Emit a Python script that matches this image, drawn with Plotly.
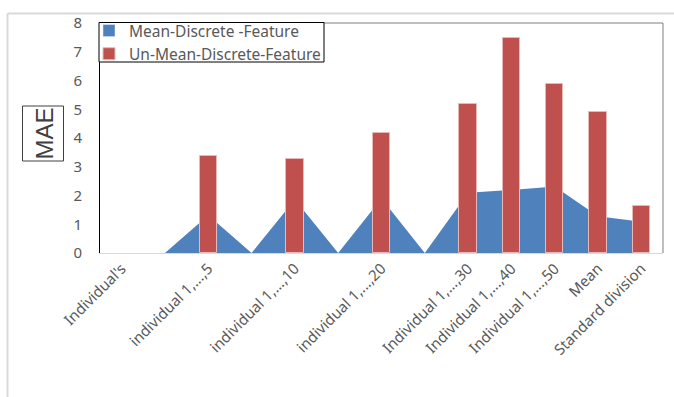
import plotly.graph_objects as go

# Category slots (blank slots separate the first groups)
slot_labels = ["Individual's", "", "individual 1,...,5", "", "individual 1,...,10", "",
               "individual 1,...,20", "", "Individual 1,...,30", "Individual 1,...,40",
               "Individual 1,...,50", "Mean", "Standard division"]
slot_pos = list(range(len(slot_labels)))

# Mean-Discrete -Feature (area), one value per slot
mean_discrete = [0, 0, 1.31, 0, 1.86, 0, 1.9, 0, 2.1, 2.19, 2.31, 1.28, 1.09]

# Un-Mean-Discrete-Feature (bars)
bar_pos = [2, 4, 6, 8, 9, 10, 11, 12]
un_mean_discrete = [3.38, 3.26, 4.19, 5.17, 7.48, 5.87, 4.9, 1.64]

y_ticks = [0, 1, 2, 3, 4, 5, 6, 7, 8]

BLUE = "#4F81BD"
RED = "#C0504D"
TXT = "#595959"
FONT = "Noto Sans, Open Sans, sans-serif"

W, H = 674, 397
ML, MR, MT, MB = 100, 11, 23, 144
PW, PH = W - ML - MR, H - MT - MB


def px_x(x):
    return (x - ML) / PW


def px_y(y):
    return (H - MB - y) / PH


fig = go.Figure()

# legend entry for the area series, shown as a square swatch
fig.add_trace(go.Bar(
    x=[None], y=[None], name="Mean-Discrete -Feature",
    marker=dict(color=BLUE), legendgroup="mean", xaxis="x", yaxis="y",
))

fig.add_trace(go.Scatter(
    x=slot_pos, y=mean_discrete, name="Mean-Discrete -Feature",
    mode="lines", fill="tozeroy", fillcolor=BLUE,
    line=dict(width=0, color=BLUE), xaxis="x", yaxis="y",
    legendgroup="mean", showlegend=False,
))

fig.add_trace(go.Bar(
    x=bar_pos, y=un_mean_discrete, name="Un-Mean-Discrete-Feature",
    marker=dict(color=RED, line=dict(color="#E6B9B8", width=1)),
    width=0.4, xaxis="x", yaxis="y2",
))

fig.update_layout(
    width=W, height=H,
    margin=dict(l=ML, r=MR, t=MT, b=MB),
    paper_bgcolor="white", plot_bgcolor="white",
    font=dict(family=FONT, size=14, color=TXT),
    showlegend=True,
    legend=dict(
        x=px_x(89), y=px_y(14), xanchor="left", yanchor="top",
        bgcolor="rgba(0,0,0,0)", borderwidth=0,
        font=dict(family=FONT, size=15.5, color=TXT),
        tracegroupgap=0, itemwidth=30,
    ),
    xaxis=dict(
        range=[-0.5, 12.5], tickmode="array", tickvals=slot_pos, ticktext=slot_labels,
        tickangle=-45, showgrid=False, zeroline=False,
        showline=True, linecolor="#d9d9d9", linewidth=1, ticks="",
        tickfont=dict(family=FONT, size=15, color=TXT),
    ),
    yaxis=dict(
        range=[0, 8], tickmode="array", tickvals=y_ticks,
        showgrid=False, zeroline=False, showline=True, linecolor="black", linewidth=1,
        ticks="", ticklabelstandoff=14,
        tickfont=dict(family=FONT, size=15, color=TXT),
    ),
    yaxis2=dict(
        range=[0, 8], overlaying="y", showgrid=False, zeroline=False,
        showticklabels=False, showline=False,
    ),
    bargap=0,
)

shapes = [
    # outer chart frame (top and left)
    dict(type="line", xref="paper", yref="paper", x0=px_x(7.5), x1=px_x(676),
         y0=px_y(13.5), y1=px_y(13.5), line=dict(color="#d9d9d9", width=2)),
    dict(type="line", xref="paper", yref="paper", x0=px_x(7.5), x1=px_x(7.5),
         y0=px_y(13.5), y1=px_y(400), line=dict(color="#d9d9d9", width=2)),
    # plot area top and right edges
    dict(type="line", xref="paper", yref="paper", x0=0, x1=1, y0=1, y1=1,
         line=dict(color="#7f7f7f", width=1)),
    dict(type="line", xref="paper", yref="paper", x0=1, x1=1, y0=0, y1=1,
         line=dict(color="#7f7f7f", width=1)),
    # legend frame
    dict(type="rect", xref="paper", yref="paper", x0=px_x(99), x1=px_x(324),
         y0=px_y(62), y1=px_y(22.5), line=dict(color="black", width=1),
         fillcolor="white", layer="above"),
    # box around the axis title
    dict(type="rect", xref="paper", yref="paper", x0=px_x(22.5), x1=px_x(63.5),
         y0=px_y(161), y1=px_y(106), line=dict(color="#404040", width=1)),
]
fig.update_layout(shapes=shapes)

fig.add_annotation(
    x=px_x(44), y=px_y(133.5), xref="paper", yref="paper",
    text="MAE", textangle=-90, showarrow=False,
    font=dict(family="Liberation Sans Narrow, Liberation Sans, sans-serif", size=24, color="#404040"),
    xanchor="center", yanchor="middle",
)

fig.write_html("out.html")
